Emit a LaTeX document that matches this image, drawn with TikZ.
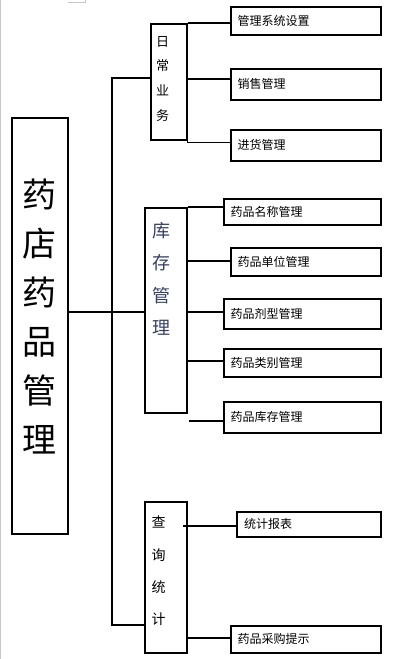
\documentclass[tikz,border=0pt]{standalone}
\usepackage{fontspec}
\newfontfamily\cjk{Noto Sans CJK SC}
\definecolor{kucun}{RGB}{52,64,100}
\tikzset{
  box/.style={draw=black, line width=1.8pt, inner sep=0pt, anchor=north west},
  leaf/.style={box, font=\cjk\fontsize{12}{14}\selectfont, align=left, inner xsep=7pt},
  conn/.style={draw=black, line width=1.8pt},
  artifact/.style={draw=black!22, line width=0.8pt}
}
\begin{document}
\begin{tikzpicture}[x=1pt,y=-1pt]
\useasboundingbox (0,0) rectangle (409,659);
\fill[white] (0,0) rectangle (409,659);
% page-edge marks
\draw[artifact] (0.6,0) -- (0.6,659);
\draw[artifact] (68,2.8) -- (85.5,2.8) -- (85.5,0);

% main box
\node[box, minimum width=56pt, minimum height=416pt,
  label={[font=\cjk\fontsize{34}{49}\selectfont, align=center, yshift=9pt]center:药\\店\\药\\品\\管\\理}]
  (M) at (11,117) {};

% category boxes
\node[box, minimum width=36pt, minimum height=116pt,
  label={[font=\cjk\fontsize{13}{24.7}\selectfont, align=center, xshift=-6pt, yshift=3pt]center:日\\常\\业\\务}]
  (D) at (149.7,22.7) {};
\node[box, minimum width=42pt, minimum height=204.4pt,
  label={[font=\cjk\fontsize{18}{32.2}\selectfont, text=kucun, align=center, xshift=-3.7pt, yshift=31.5pt]center:库\\存\\管\\理}]
  (K) at (143.7,207.3) {};
\node[box, minimum width=42pt, minimum height=151pt,
  label={[font=\cjk\fontsize{14}{32.3}\selectfont, align=center, xshift=-7pt, yshift=6pt]center:查\\询\\统\\计}]
  (Q) at (143.7,500.7) {};

% leaf boxes
\node[leaf, minimum width=150.3pt, minimum height=28pt, text width=136.3pt] (L1) at (229.7,5.7) {管理系统设置};
\node[leaf, minimum width=150.3pt, minimum height=31.3pt, text width=136.3pt] (L2) at (229.7,67.7) {销售管理};
\node[leaf, minimum width=150.3pt, minimum height=30.7pt, text width=136.3pt] (L3) at (229.7,129) {进货管理};
\node[leaf, minimum width=157.3pt, minimum height=26pt, text width=143.3pt] (L4) at (222.7,198) {药品名称管理};
\node[leaf, minimum width=150.3pt, minimum height=28.3pt, text width=136.3pt] (L5) at (229.7,246.7) {药品单位管理};
\node[leaf, minimum width=157.3pt, minimum height=30pt, text width=143.3pt] (L6) at (222.7,298) {药品剂型管理};
\node[leaf, minimum width=157.3pt, minimum height=27.7pt, text width=143.3pt] (L7) at (222.7,348) {药品类别管理};
\node[leaf, minimum width=157.3pt, minimum height=31pt, text width=143.3pt] (L8) at (222.7,400.7) {药品库存管理};
\node[leaf, minimum width=143.7pt, minimum height=25.3pt, text width=129.7pt] (L9) at (236.3,510.7) {统计报表};
\node[leaf, minimum width=150.3pt, minimum height=26.7pt, text width=136.3pt] (L10) at (229.7,625) {药品采购提示};

% spine
\coordinate (sTop) at (112,77.7);
\coordinate (sBot) at (112,625);
\draw[conn] (D.west |- sTop) -- (sTop) -- (sBot) -- (Q.west |- sBot);
\draw[conn] ([yshift=14pt]M.east) -- ([yshift=14pt]M.east -| K.west);

% daily business bracket
\draw[conn] (D.north east) -- (D.north east -| L1.west);
\draw[conn] ([yshift=2.7pt]D.east) -- ([yshift=2.7pt]D.east -| L2.west);
\draw[conn] (D.south east) -- ([yshift=-2pt]D.south east) -- ([yshift=-2pt]D.south east -| L3.west);

% inventory connectors
\draw[conn] (K.north east) -- (K.north east -| L4.west);
\draw[conn] ([yshift=49.5pt]K.east) -- ([yshift=49.5pt]K.east -| L5.west);
\draw[conn] ([yshift=-1.2pt]K.east) -- ([yshift=-1.2pt]K.east -| L6.west);
\draw[conn] ([yshift=-50.5pt]K.east) -- ([yshift=-50.5pt]K.east -| L7.west);
\draw[conn] ([xshift=1pt,yshift=-7.3pt]K.south east) -- ([yshift=-7.3pt]K.south east -| L8.west);

% query connectors
\draw[conn] ([xshift=-4.7pt,yshift=51.2pt]Q.east) -- ([yshift=51.2pt]Q.east -| L9.west);
\draw[conn] ([yshift=-60.5pt]Q.east) -- ([yshift=-60.5pt]Q.east -| L10.west);
\end{tikzpicture}
\end{document}
